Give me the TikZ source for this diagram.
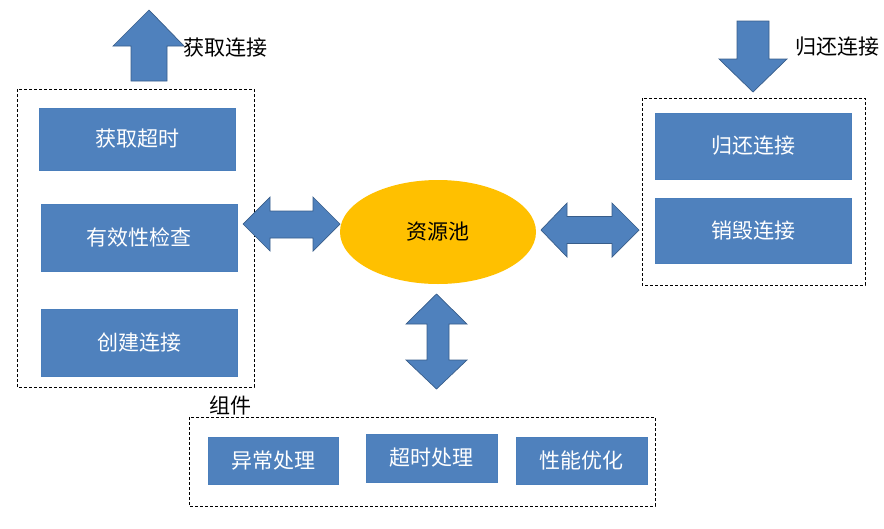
\documentclass[tikz,border=0pt]{standalone}
\usepackage{fontspec}
\setmainfont{Noto Sans CJK SC}
\usetikzlibrary{shapes.geometric}
\definecolor{boxblue}{HTML}{4F81BD}
\definecolor{boxline}{HTML}{4A7EBB}
\definecolor{arrline}{HTML}{385D8A}
\definecolor{pool}{HTML}{FFC000}
\begin{document}
\begin{tikzpicture}[x=1pt,y=-1pt,
  bluebox/.style={draw=boxline, fill=boxblue, text=white, font=\fontsize{21}{25}\selectfont, inner sep=0pt},
  group/.style={draw=black, dashed, dash pattern=on 3pt off 2pt, line width=0.8pt},
  blockarrow/.style={draw=arrline, fill=boxblue, line width=0.7pt, line join=miter},
  lbl/.style={font=\fontsize{21}{25}\selectfont, text=black, inner sep=0pt, anchor=west}]
\useasboundingbox (0,0) rectangle (884,528);

% dashed groups
\draw[group] (17,89) rectangle (254,387);
\draw[group] (642,98) rectangle (865,285);
\draw[group] (189,417) rectangle (655,506);

% left boxes
\node[bluebox, minimum width=196pt, minimum height=62pt] (timeout) at (137,139) {获取超时};
\node[bluebox, minimum width=196pt, minimum height=67pt] (valid) at (139,237.5) {有效性检查};
\node[bluebox, minimum width=196pt, minimum height=67pt] (create) at (139,342.5) {创建连接};

% right boxes
\node[bluebox, minimum width=196pt, minimum height=66pt] (ret) at (753,146) {归还连接};
\node[bluebox, minimum width=196pt, minimum height=65pt] (destroy) at (753,230.5) {销毁连接};

% bottom boxes
\node[bluebox, minimum width=130pt, minimum height=47pt] (exc) at (273,460.5) {异常处理};
\node[bluebox, minimum width=131pt, minimum height=48pt] (tmo) at (431.5,458) {超时处理};
\node[bluebox, minimum width=131pt, minimum height=47pt] (perf) at (581.5,460.5) {性能优化};

% pool
\node[ellipse, fill=pool, minimum width=196pt, minimum height=104pt, inner sep=0pt,
      font=\fontsize{21}{25}\selectfont] (pool) at (438,232) {资源池};

% labels
\node[lbl] (getlbl) at (183,48) {获取连接};
\node[lbl] (retlbl) at (795,47) {归还连接};
\node[lbl] (complbl) at (209,406) {组件};

% block arrows
\draw[blockarrow] (131,81) -- (131,46) -- (113,46) -- (149,10) -- (184,46) -- (167,46) -- (167,81) -- cycle;
\draw[blockarrow] (737,21) -- (769,21) -- (769,59) -- (787,59) -- (753,92) -- (719,59) -- (737,59) -- cycle;
\draw[blockarrow] (243,224) -- (270,197) -- (270,211) -- (313,211) -- (313,197) -- (340,224)
   -- (313,251) -- (313,238) -- (270,238) -- (270,251) -- cycle;
\draw[blockarrow] (541,230) -- (567,203) -- (567,216.5) -- (612,216.5) -- (612,203) -- (639,230)
   -- (612,257) -- (612,243.5) -- (567,243.5) -- (567,257) -- cycle;
\draw[blockarrow] (436.5,294) -- (467,324) -- (449,324) -- (449,360) -- (467,360) -- (436.5,389)
   -- (406,360) -- (427,360) -- (427,324) -- (406,324) -- cycle;
\end{tikzpicture}
\end{document}
